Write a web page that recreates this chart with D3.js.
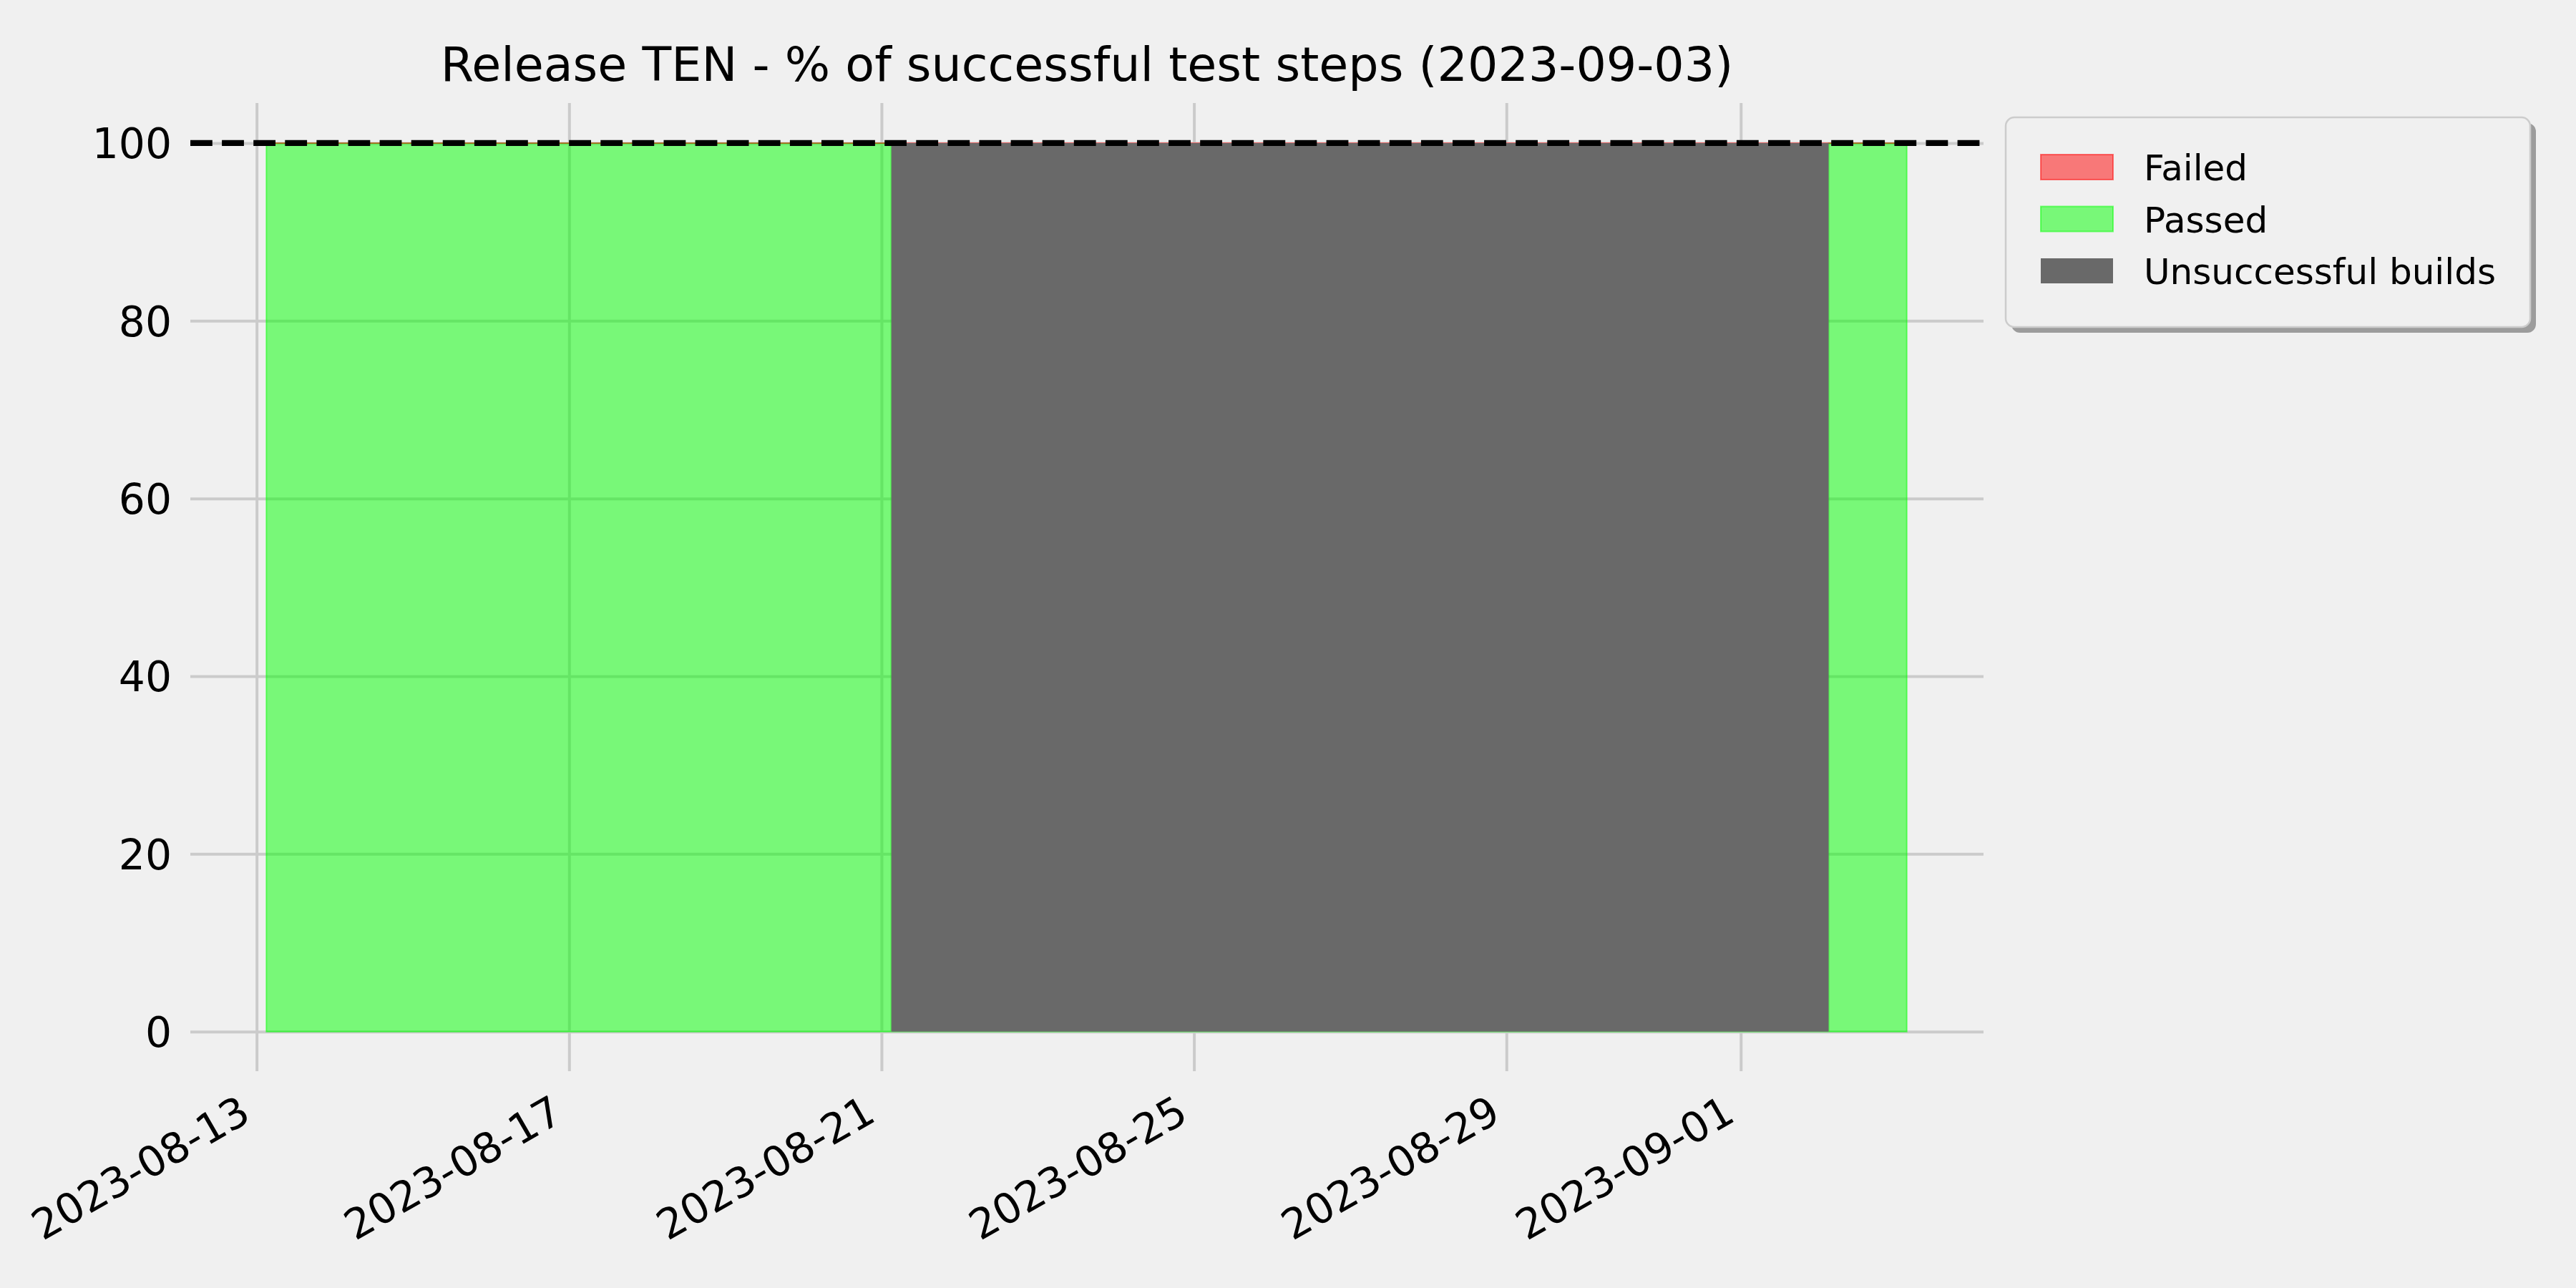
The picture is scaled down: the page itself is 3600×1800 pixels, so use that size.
<!DOCTYPE html>
<html>
<head>
<meta charset="utf-8">
<script src="https://cdn.jsdelivr.net/npm/d3@7"></script>
<style>
  html, body { margin: 0; padding: 0; background: #f0f0f0; }
  svg { display: block; }
  text { font-family: "DejaVu Sans", sans-serif; fill: #000; }
</style>
</head>
<body>
<svg id="chart" width="3600" height="1800"></svg>
<script>
// ---------------- data ----------------
const titleText = "Release TEN - % of successful test steps (2023-09-03)";
const buildDates = [
  "2023-08-13T03:00", "2023-08-14T03:00", "2023-08-15T03:00", "2023-08-16T03:00",
  "2023-08-17T03:00", "2023-08-18T03:00", "2023-08-19T03:00", "2023-08-20T03:00",
  "2023-08-21T03:00", "2023-08-22T03:00", "2023-08-23T03:00", "2023-08-24T03:00",
  "2023-08-25T03:00", "2023-08-26T03:00", "2023-08-27T03:00", "2023-08-28T03:00",
  "2023-08-29T03:00", "2023-08-30T03:00", "2023-08-31T03:00", "2023-09-01T03:00",
  "2023-09-02T03:00", "2023-09-03T03:00"
];
const passedPct = [100, 100, 100, 100, 100, 100, 100, 100,
                   0, 0, 0, 0, 0, 0, 0, 0, 0, 0, 0, 0,
                   100, 100];
const failedPct = [0, 0, 0, 0, 0, 0, 0, 0,
                   0, 0, 0, 0, 0, 0, 0, 0, 0, 0, 0, 0,
                   0, 0];
const unsuccessfulPct = [0, 0, 0, 0, 0, 0, 0, 0,
                   100, 100, 100, 100, 100, 100, 100, 100, 100, 100, 100, 100,
                   0, 0];
const xTickDates = ["2023-08-13", "2023-08-17", "2023-08-21", "2023-08-25", "2023-08-29", "2023-09-01"];
const yTickValues = [0, 20, 40, 60, 80, 100];
const targetLine = 100;
const legendLabels = ["Failed", "Passed", "Unsuccessful builds"];

// ---------------- layout ----------------
const W = 3600, H = 1800;
const L = 266, R = 2772, T = 144, B = 1497;
const parse = d3.timeParse("%Y-%m-%dT%H:%M");
const parseDay = d3.timeParse("%Y-%m-%d");

const svg = d3.select("#chart");
svg.append("rect").attr("width", W).attr("height", H).attr("fill", "#f0f0f0");

const x = d3.scaleTime()
  .domain([parse("2023-08-12T03:38"), parse("2023-09-04T02:35")])
  .range([L, R]);
const y = d3.scaleLinear().domain([-4.45, 104.5]).range([B, T]);

const rows = buildDates.map((d, i) => ({
  date: parse(d),
  passed: passedPct[i],
  failed: failedPct[i],
  unsucc: unsuccessfulPct[i]
}));
const xTicks = xTickDates.map(parseDay);

// ---------------- grid ----------------
const gridX = svg.append("g").attr("transform", `translate(0,${B})`)
  .call(d3.axisBottom(x).tickValues(xTicks).tickSize(-(B - T)).tickFormat(""));
const gridY = svg.append("g").attr("transform", `translate(${L},0)`)
  .call(d3.axisLeft(y).tickValues(yTickValues).tickSize(-(R - L)).tickFormat(""));
[gridX, gridY].forEach(g => {
  g.select(".domain").remove();
  g.selectAll("line").attr("stroke", "#cbcbcb").attr("stroke-width", 4);
});

// ---------------- areas ----------------
const passedArea = d3.area()
  .curve(d3.curveStepAfter)
  .x(d => x(d.date))
  .y0(() => y(0))
  .y1(d => y(d.passed));
const failedArea = d3.area()
  .curve(d3.curveStepAfter)
  .x(d => x(d.date))
  .y0(d => y(d.passed))
  .y1(d => y(d.passed + d.failed));
const unsuccArea = d3.area()
  .curve(d3.curveStepAfter)
  .x(d => x(d.date))
  .y0(() => y(0))
  .y1(d => y(d.unsucc));

svg.append("path").datum(rows).attr("d", passedArea)
  .attr("fill", "#00ff00").attr("fill-opacity", 0.5)
  .attr("stroke", "#00ff00").attr("stroke-opacity", 0.5).attr("stroke-width", 2);
svg.append("path").datum(rows.filter(d => d.passed > 0 || d.failed > 0)).attr("d", failedArea)
  .attr("fill", "#ff0000").attr("fill-opacity", 0.5)
  .attr("stroke", "#ff0000").attr("stroke-opacity", 0.5).attr("stroke-width", 2);
svg.append("path").datum(rows).attr("d", unsuccArea)
  .attr("fill", "#696969").attr("stroke", "none");

// target dashed line
svg.append("line")
  .attr("x1", L).attr("x2", R)
  .attr("y1", y(targetLine)).attr("y2", y(targetLine))
  .attr("stroke", "#000").attr("stroke-width", 8.3)
  .attr("stroke-dasharray", "30.8,13.3");

// ---------------- axes labels ----------------
const xAxis = svg.append("g").attr("transform", `translate(0,${B})`)
  .call(d3.axisBottom(x).tickValues(xTicks).tickSize(0).tickPadding(0)
    .tickFormat(d3.timeFormat("%Y-%m-%d")));
xAxis.select(".domain").remove();
xAxis.selectAll("text")
  .attr("y", 0).attr("dy", 0)
  .attr("text-anchor", "end")
  .attr("font-size", 58.3)
  .attr("transform", "translate(-6,68) rotate(-30)");

const yAxis = svg.append("g").attr("transform", `translate(${L},0)`)
  .call(d3.axisLeft(y).tickValues(yTickValues).tickSize(0).tickPadding(0));
yAxis.select(".domain").remove();
yAxis.selectAll("text")
  .attr("x", -26).attr("dy", 0).attr("y", 21)
  .attr("text-anchor", "end")
  .attr("font-size", 58.3);

svg.selectAll(".tick text").style("font-family", "DejaVu Sans").attr("fill", "#000");

// ---------------- title ----------------
svg.append("text")
  .attr("x", (L + R) / 2).attr("y", 113)
  .attr("text-anchor", "middle")
  .attr("font-size", 66.7)
  .text(titleText);

// ---------------- legend ----------------
const lg = svg.append("g");
const lx = 2803, ly = 164, lw = 733, lh = 293;
lg.append("rect").attr("x", lx + 8).attr("y", ly + 8).attr("width", lw).attr("height", lh)
  .attr("rx", 12).attr("fill", "#9c9c9c");
lg.append("rect").attr("x", lx).attr("y", ly).attr("width", lw).attr("height", lh)
  .attr("rx", 12).attr("fill", "#f0f0f0").attr("stroke", "#cccccc").attr("stroke-width", 2.5);
const legendStyles = [
  { fill: "#ff0000", fo: 0.5, stroke: "#ff0000", so: 0.5 },
  { fill: "#00ff00", fo: 0.5, stroke: "#00ff00", so: 0.5 },
  { fill: "#696969", fo: 1, stroke: "none", so: 0 }
];
legendLabels.forEach((lab, i) => {
  const ry = 216 + i * 72.5;
  lg.append("rect").attr("x", 2852).attr("y", ry).attr("width", 101).attr("height", 35)
    .attr("fill", legendStyles[i].fill).attr("fill-opacity", legendStyles[i].fo)
    .attr("stroke", legendStyles[i].stroke).attr("stroke-opacity", legendStyles[i].so)
    .attr("stroke-width", 2);
  lg.append("text").attr("x", 2996).attr("y", ry + 36)
    .attr("font-size", 50).text(lab);
});
</script>
</body>
</html>
